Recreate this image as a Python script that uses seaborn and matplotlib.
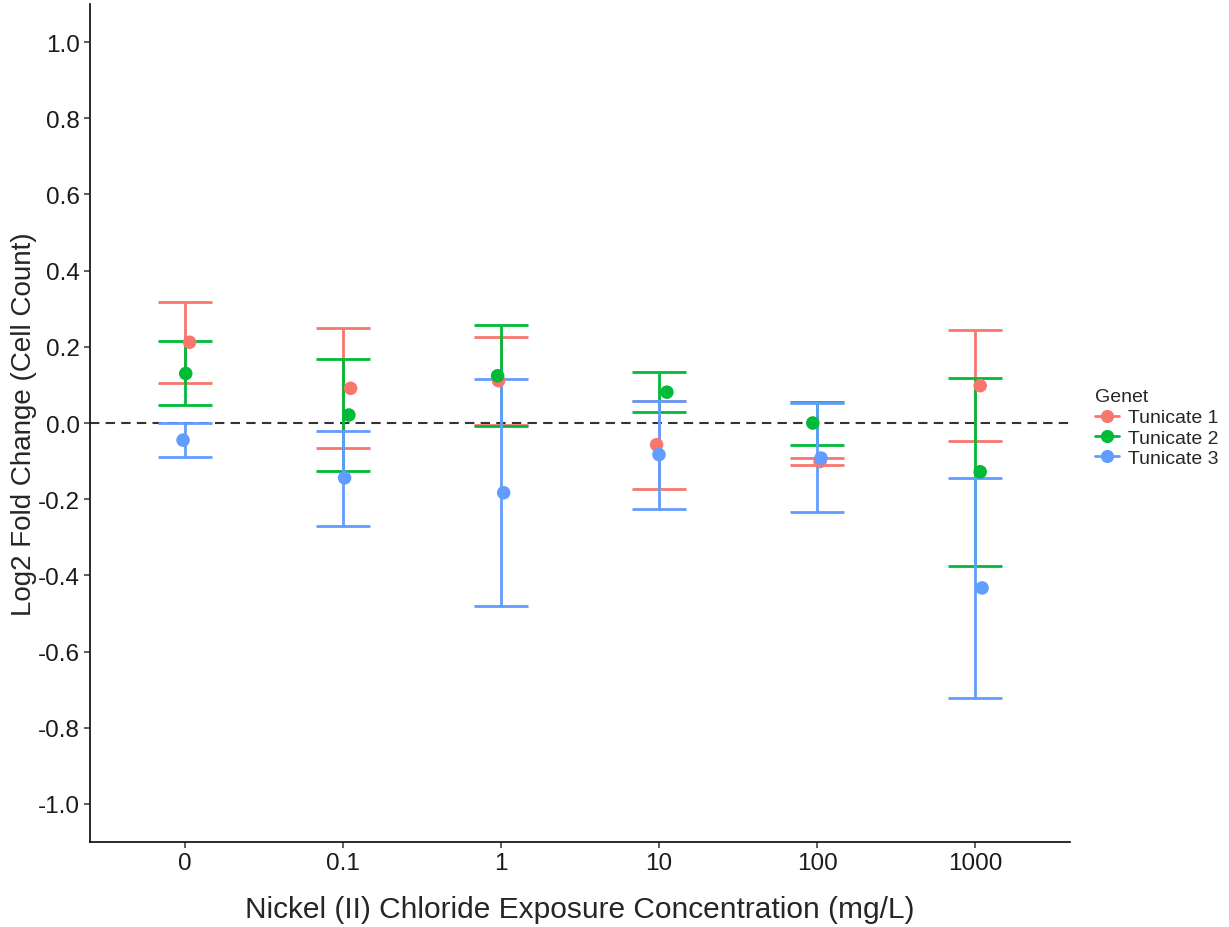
import pandas as pd
import matplotlib
matplotlib.use("Agg")
import matplotlib.pyplot as plt
import seaborn as sns
from matplotlib.lines import Line2D

# Data
concentrations = ["0", "0.1", "1", "10", "100", "1000"]
genets = ["Tunicate 1", "Tunicate 2", "Tunicate 3"]

t1_value = [0.212, 0.091, 0.111, -0.057, -0.101, 0.098]
t2_value = [0.130, 0.021, 0.124, 0.081, 0.000, -0.128]
t3_value = [-0.045, -0.144, -0.183, -0.083, -0.092, -0.433]

t1_upper = [0.317, 0.249, 0.226, 0.057, -0.093, 0.244]
t1_lower = [0.105, -0.066, -0.005, -0.172, -0.110, -0.048]
t2_upper = [0.214, 0.167, 0.258, 0.133, 0.054, 0.118]
t2_lower = [0.048, -0.126, -0.007, 0.030, -0.057, -0.375]
t3_upper = [0.000, -0.020, 0.115, 0.059, 0.052, -0.145]
t3_lower = [-0.088, -0.270, -0.480, -0.226, -0.234, -0.721]

# horizontal jitter of the points, in category units
t1_jitter = [0.030, 0.049, -0.015, -0.015, 0.019, 0.032]
t2_jitter = [0.006, 0.038, -0.021, 0.050, -0.027, 0.032]
t3_jitter = [-0.011, 0.011, 0.017, 0.000, 0.025, 0.044]

values = [t1_value, t2_value, t3_value]
uppers = [t1_upper, t2_upper, t3_upper]
lowers = [t1_lower, t2_lower, t3_lower]
jitters = [t1_jitter, t2_jitter, t3_jitter]

rows = []
for g, name in enumerate(genets):
    for i, conc in enumerate(concentrations):
        rows.append({
            "Genet": name,
            "Concentration": conc,
            "pos": i,
            "xj": i + jitters[g][i],
            "value": values[g][i],
            "upper": uppers[g][i],
            "lower": lowers[g][i],
        })
df = pd.DataFrame(rows)

palette = {"Tunicate 1": "#F8766D", "Tunicate 2": "#00BA38", "Tunicate 3": "#619CFF"}

sns.set_style("white")
plt.rcParams["font.family"] = ["Liberation Sans", "DejaVu Sans"]
plt.rcParams["axes.unicode_minus"] = False

fig = plt.figure(figsize=(12.29, 9.28), dpi=100)
ax = fig.add_axes([0.0732, 0.0916, 0.7974, 0.903])

# zero reference line
ax.axhline(0, color="#333333", linestyle=(0, (4.5, 3)), linewidth=1.5, zorder=1)

# error bars, centred on each concentration
for name in genets:
    sub = df[df["Genet"] == name]
    mid = (sub["upper"] + sub["lower"]) / 2
    half = (sub["upper"] - sub["lower"]) / 2
    ax.errorbar(sub["pos"], mid, yerr=half, fmt="none", ecolor=palette[name],
                elinewidth=2, capsize=19.5, capthick=2, zorder=2)

# points
sns.scatterplot(data=df, x="xj", y="value", hue="Genet", palette=palette,
                s=95, edgecolor="none", legend=False, ax=ax, zorder=3)

ax.set_xlim(-0.6, len(concentrations) - 1 + 0.6)
ax.set_ylim(-1.1, 1.1)
ax.set_xticks(range(len(concentrations)))
ax.set_xticklabels(concentrations)
yt = [round(-1.0 + 0.2 * k, 1) for k in range(11)]
ax.set_yticks(yt)
ax.set_yticklabels([f"{v:.1f}" for v in yt])

ax.set_xlabel("Nickel (II) Chloride Exposure Concentration (mg/L)", fontsize=21.5, labelpad=15)
ax.set_ylabel("Log2 Fold Change (Cell Count)", fontsize=20, labelpad=1)

for side in ["top", "right"]:
    ax.spines[side].set_visible(False)
for side in ["left", "bottom"]:
    ax.spines[side].set_color("#1a1a1a")
    ax.spines[side].set_linewidth(1.3)
ax.tick_params(axis="both", which="major", labelsize=17.5, length=4, width=1.1,
               color="#333333", labelcolor="#1a1a1a", pad=3, direction="out",
               bottom=True, left=True)

handles = [Line2D([0], [0], color=palette[n], marker="o", markersize=9.5, lw=2,
                  markeredgewidth=0) for n in genets]
leg = fig.legend(handles, genets, title="Genet", loc="upper left",
                 bbox_to_anchor=(0.877, 0.6), frameon=False, fontsize=14,
                 title_fontsize=14, handlelength=1.2, handletextpad=0.5,
                 labelspacing=0.14, alignment="left")
leg._legend_box.sep = 3

fig.savefig("out.png", dpi=100)
